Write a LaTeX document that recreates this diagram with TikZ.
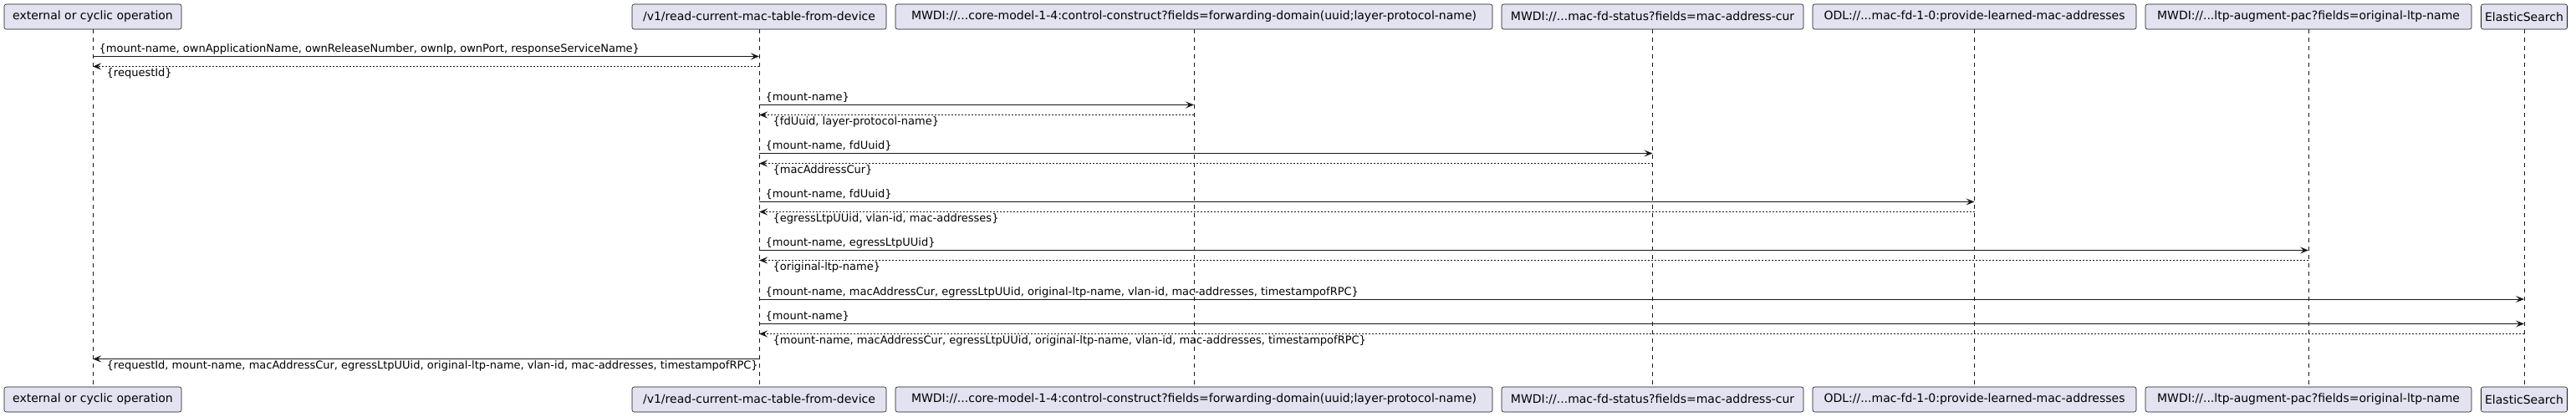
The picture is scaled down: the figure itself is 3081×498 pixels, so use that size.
\documentclass[tikz,border=0pt]{standalone}
\usepackage{fontspec}
\setmainfont{DejaVu Sans}
\usetikzlibrary{arrows.meta}
\definecolor{partfill}{HTML}{E2E2F0}
\definecolor{ink}{HTML}{181818}
\tikzset{
  part/.style={draw=ink, line width=0.6pt, fill=partfill, rounded corners=2.5pt,
    minimum height=30pt, inner sep=0pt, font=\fontsize{14}{16}\selectfont, text=black},
  lifeline/.style={draw=ink, line width=0.6pt, dash pattern=on 5pt off 5pt},
  msg/.style={draw=ink, line width=1pt, -{Stealth[length=10pt,width=8pt,inset=4pt]}},
  ret/.style={msg, dash pattern=on 2pt off 2pt},
  lbl/.style={font=\fontsize{13}{15}\selectfont, inner sep=0pt, text=black},
}
\begin{document}
\begin{tikzpicture}[x=1pt,y=-1pt]
\useasboundingbox (0,0) rectangle (3081,498);
\fill[white] (0,0) rectangle (3081,498);
% participants (top)
\node[part, minimum width=212pt] (p1t) at (111,20) {external or cyclic operation};
\node[part, minimum width=304pt] (p2t) at (908,20) {/v1/read-current-mac-table-from-device};
\node[part, minimum width=714pt] (p3t) at (1428,20) {MWDI://...core-model-1-4:control-construct?fields=forwarding-domain(uuid;layer-protocol-name)};
\node[part, minimum width=361pt] (p4t) at (1976.5,20) {MWDI://...mac-fd-status?fields=mac-address-cur};
\node[part, minimum width=387pt] (p5t) at (2361.5,20) {ODL://...mac-fd-1-0:provide-learned-mac-addresses};
\node[part, minimum width=390pt] (p6t) at (2761,20) {MWDI://...ltp-augment-pac?fields=original-ltp-name};
\node[part, minimum width=103pt] (p7t) at (3019,20) {ElasticSearch};
% participants (bottom)
\node[part, minimum width=212pt] (p1b) at (111,478) {external or cyclic operation};
\node[part, minimum width=304pt] (p2b) at (908,478) {/v1/read-current-mac-table-from-device};
\node[part, minimum width=714pt] (p3b) at (1428,478) {MWDI://...core-model-1-4:control-construct?fields=forwarding-domain(uuid;layer-protocol-name)};
\node[part, minimum width=361pt] (p4b) at (1976.5,478) {MWDI://...mac-fd-status?fields=mac-address-cur};
\node[part, minimum width=387pt] (p5b) at (2361.5,478) {ODL://...mac-fd-1-0:provide-learned-mac-addresses};
\node[part, minimum width=390pt] (p6b) at (2761,478) {MWDI://...ltp-augment-pac?fields=original-ltp-name};
\node[part, minimum width=103pt] (p7b) at (3019,478) {ElasticSearch};
% lifelines
\foreach \i in {1,...,7} {\draw[lifeline] (p\i t.south) -- (p\i b.north);}
% message rows
\coordinate (y1) at (0,67.5);
\coordinate (y2) at (0,79.5);
\coordinate (y3) at (0,125.5);
\coordinate (y4) at (0,137.5);
\coordinate (y5) at (0,183.5);
\coordinate (y6) at (0,195.5);
\coordinate (y7) at (0,241.5);
\coordinate (y8) at (0,253.5);
\coordinate (y9) at (0,299.5);
\coordinate (y10) at (0,311.5);
\coordinate (y11) at (0,358);
\coordinate (y12) at (0,387.5);
\coordinate (y13) at (0,399.5);
\coordinate (y14) at (0,429.5);
% 1
\draw[msg] (p1t |- y1) -- (p2t |- y1);
\node[lbl, anchor=base west, xshift=7.5pt, yshift=5pt] at (p1t |- y1) {\{mount-name, ownApplicationName, ownReleaseNumber, ownIp, ownPort, responseServiceName\}};
% 2
\draw[ret] (p2t |- y2) -- (p1t |- y2);
\node[lbl, anchor=base west, xshift=16.5pt, yshift=-12pt] at (p1t |- y2) {\{requestId\}};
% 3
\draw[msg] (p2t |- y3) -- (p3t |- y3);
\node[lbl, anchor=base west, xshift=7.5pt, yshift=5pt] at (p2t |- y3) {\{mount-name\}};
% 4
\draw[ret] (p3t |- y4) -- (p2t |- y4);
\node[lbl, anchor=base west, xshift=16.5pt, yshift=-12pt] at (p2t |- y4) {\{fdUuid, layer-protocol-name\}};
% 5
\draw[msg] (p2t |- y5) -- (p4t |- y5);
\node[lbl, anchor=base west, xshift=7.5pt, yshift=5pt] at (p2t |- y5) {\{mount-name, fdUuid\}};
% 6
\draw[ret] (p4t |- y6) -- (p2t |- y6);
\node[lbl, anchor=base west, xshift=16.5pt, yshift=-12pt] at (p2t |- y6) {\{macAddressCur\}};
% 7
\draw[msg] (p2t |- y7) -- (p5t |- y7);
\node[lbl, anchor=base west, xshift=7.5pt, yshift=5pt] at (p2t |- y7) {\{mount-name, fdUuid\}};
% 8
\draw[ret] (p5t |- y8) -- (p2t |- y8);
\node[lbl, anchor=base west, xshift=16.5pt, yshift=-12pt] at (p2t |- y8) {\{egressLtpUUid, vlan-id, mac-addresses\}};
% 9
\draw[msg] (p2t |- y9) -- (p6t |- y9);
\node[lbl, anchor=base west, xshift=7.5pt, yshift=5pt] at (p2t |- y9) {\{mount-name, egressLtpUUid\}};
% 10
\draw[ret] (p6t |- y10) -- (p2t |- y10);
\node[lbl, anchor=base west, xshift=16.5pt, yshift=-12pt] at (p2t |- y10) {\{original-ltp-name\}};
% 11
\draw[msg] (p2t |- y11) -- (p7t |- y11);
\node[lbl, anchor=base west, xshift=7.5pt, yshift=5pt] at (p2t |- y11) {\{mount-name, macAddressCur, egressLtpUUid, original-ltp-name, vlan-id, mac-addresses, timestampofRPC\}};
% 12
\draw[msg] (p2t |- y12) -- (p7t |- y12);
\node[lbl, anchor=base west, xshift=7.5pt, yshift=5pt] at (p2t |- y12) {\{mount-name\}};
% 13
\draw[ret] (p7t |- y13) -- (p2t |- y13);
\node[lbl, anchor=base west, xshift=16.5pt, yshift=-12pt] at (p2t |- y13) {\{mount-name, macAddressCur, egressLtpUUid, original-ltp-name, vlan-id, mac-addresses, timestampofRPC\}};
% 14
\draw[msg] (p2t |- y14) -- (p1t |- y14);
\node[lbl, anchor=base west, xshift=16.5pt, yshift=-12pt] at (p1t |- y14) {\{requestId, mount-name, macAddressCur, egressLtpUUid, original-ltp-name, vlan-id, mac-addresses, timestampofRPC\}};
\end{tikzpicture}
\end{document}
